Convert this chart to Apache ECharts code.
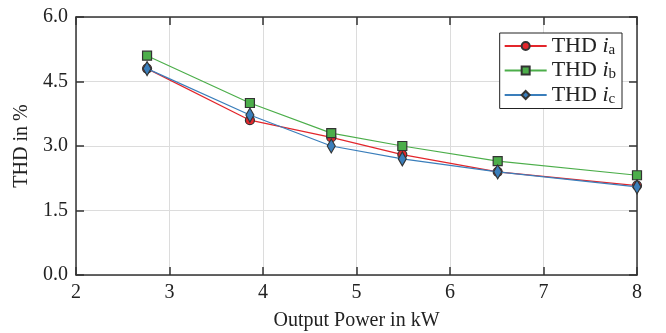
<!DOCTYPE html>
<html><head><meta charset="utf-8">
<script src="https://cdn.jsdelivr.net/npm/echarts@6/dist/echarts.min.js"></script>
<style>html,body{margin:0;padding:0;background:#fff}#c{width:666px;height:333px}</style>
</head><body><div id="c"></div>
<script>
var xPower = [2.76, 3.86, 4.73, 5.49, 6.51, 8.0];
var thdA = [4.8, 3.6, 3.2, 2.8, 2.4, 2.08];
var thdB = [5.1, 4.0, 3.3, 3.0, 2.65, 2.32];
var thdC = [4.8, 3.72, 3.0, 2.7, 2.4, 2.05];
var seriesNames = ['THD a', 'THD b', 'THD c'];
var subs = ['a', 'b', 'c'];
var yTicks = [0, 1.5, 3.0, 4.5, 6.0];
var xLabel = 'Output Power in kW';
var yLabel = 'THD in %';

var FONT = '"Liberation Serif", "DejaVu Serif", serif';
function pairs(v){ return xPower.map(function(x,i){return [x, v[i]];}); }
var colors = ['#e3262b', '#4cae4a', '#3a7ebb'];
var symbols = ['circle', 'rect', 'diamond'];
var sizes = [9, 9, [8, 14]];
var datas = [thdA, thdB, thdC];

var series = datas.map(function(d, i){
  return {
    name: seriesNames[i], type: 'line', data: pairs(d),
    symbol: symbols[i], symbolSize: sizes[i],
    lineStyle: {color: colors[i], width: 1.2},
    itemStyle: {color: colors[i], borderColor: '#333', borderWidth: 1.2},
    emphasis: {disabled: true}, z: 2 + i
  };
});

var axisCommon = {
  axisLine: {show: true, onZero: false, lineStyle: {color: '#333', width: 1.5}},
  axisTick: {show: true, inside: true, length: 8, lineStyle: {color: '#333', width: 1.5}},
};

var chart = echarts.init(document.getElementById('c'), null, {renderer: 'canvas'});
chart.setOption({
  animation: false,
  backgroundColor: '#fff',
  grid: {left: 76, right: 29, top: 17, bottom: 58, containLabel: false, outerBoundsMode: 'none'},
  legend: {
    right: 44, top: 33, orient: 'vertical',
    backgroundColor: '#fff', borderColor: '#222', borderWidth: 1, borderRadius: 0,
    padding: [2, 6, 2, 4], itemGap: 2, itemWidth: 42, itemHeight: 10,
    data: seriesNames,
    formatter: function(n){ var k = seriesNames.indexOf(n); return 'THD {it|i}{sub|' + subs[k] + '}'; },
    textStyle: {fontFamily: FONT, fontSize: 22, color: '#222',
      rich: {it: {fontFamily: FONT, fontSize: 22, fontStyle: 'italic', color: '#222'},
             sub: {fontFamily: FONT, fontSize: 15, color: '#222', verticalAlign: 'bottom', padding: [8, 0, 0, 0]}}}
  },
  xAxis: [
    Object.assign({type: 'value', min: 2, max: 8, interval: 1, position: 'bottom',
      name: xLabel, nameLocation: 'middle', nameGap: 36,
      nameTextStyle: {fontFamily: FONT, fontSize: 20, color: '#222'},
      axisLabel: {fontFamily: FONT, fontSize: 20, color: '#222', margin: 8},
      splitLine: {show: true, lineStyle: {color: '#dcdcdc', width: 1}}}, axisCommon),
    Object.assign({type: 'value', min: 2, max: 8, interval: 1, position: 'top',
      axisLabel: {show: false}, splitLine: {show: false}}, axisCommon)
  ],
  yAxis: [
    Object.assign({type: 'value', min: 0, max: 6, interval: 1.5, position: 'left',
      name: yLabel, nameLocation: 'middle', nameGap: 40,
      nameTextStyle: {fontFamily: FONT, fontSize: 20, color: '#222'},
      axisLabel: {fontFamily: FONT, fontSize: 20, color: '#222', margin: 8,
        formatter: function(v){ return v.toFixed(1); }},
      splitLine: {show: true, lineStyle: {color: '#dcdcdc', width: 1}}}, axisCommon),
    Object.assign({type: 'value', min: 0, max: 6, interval: 1.5, position: 'right',
      axisLabel: {show: false}, splitLine: {show: false}}, axisCommon)
  ],
  series: series
});
</script></body></html>
